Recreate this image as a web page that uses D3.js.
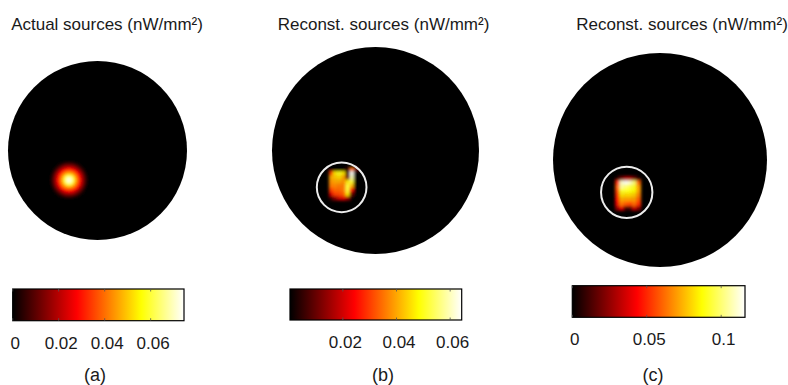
<!DOCTYPE html>
<html>
<head>
<meta charset="utf-8">
<script src="https://cdn.jsdelivr.net/npm/d3@7"></script>
<style>
  body { margin: 0; background: #fff; }
  svg { display: block; font-family: "Liberation Sans", Arial, sans-serif; }
</style>
</head>
<body>
<div id="chart"></div>
<script>
// ---- data (model coordinates in mm, values in nW/mm^2) ----
var discRadiusMm = 10;

// (a) actual source: radial profile
var sourceCenterA = [-3.18, -3.3];
var profileRadius = [0, 0.25, 0.5, 0.75, 1.0, 1.25, 1.5, 1.75, 2.0];
var profileValue  = [0.0745, 0.07, 0.06, 0.048, 0.038, 0.028, 0.018, 0.009, 0.003];

// (b) reconstructed source, 0.4 mm cells, rows top -> bottom
var cellMm = 0.4;
var gridOriginB = [-4.5, -1.6];
var gridB = [
  [0,     0,     0,     0,     0.005, 0.035, 0.01 ],
  [0.03,  0.046, 0.05,  0.046, 0.005, 0.064, 0    ],
  [0.04,  0.043, 0.045, 0.04,  0.01,  0.06,  0    ],
  [0.038, 0.04,  0.04,  0.038, 0.046, 0.052, 0    ],
  [0.036, 0.037, 0.036, 0.036, 0.052, 0.042, 0    ],
  [0.03,  0.034, 0.034, 0.036, 0.052, 0.026, 0    ],
  [0.02,  0.03,  0.031, 0.033, 0.046, 0.01,  0    ],
  [0.005, 0.014, 0.02,  0.022, 0.016, 0,     0    ]
];

// (c) reconstructed source
var gridOriginC = [-4.2, -1.5];
var gridC = [
  [0.005, 0.02,  0.03,  0.03,  0.02,  0.005],
  [0.05,  0.11,  0.115, 0.11,  0.1,   0.06 ],
  [0.06,  0.105, 0.1,   0.095, 0.09,  0.07 ],
  [0.055, 0.092, 0.09,  0.088, 0.086, 0.07 ],
  [0.05,  0.082, 0.08,  0.08,  0.078, 0.065],
  [0.045, 0.072, 0.07,  0.07,  0.07,  0.058],
  [0.04,  0.064, 0.058, 0.055, 0.062, 0.05 ],
  [0.025, 0.04,  0.012, 0.012, 0.035, 0.022]
];

// true source location marked on reconstructions
var ringCenterB = [-3.27, -3.56];
var ringCenterC = [-3.11, -3.02];
var ringRadiusMm = 2.4;

// colorbars
var cbarDomainA = [0, 0.0745], cbarTicksA = [0, 0.02, 0.04, 0.06];
var cbarDomainB = [0.0003, 0.0643], cbarTicksB = [0.02, 0.04, 0.06];
var cbarDomainC = [0, 0.116], cbarTicksC = [0, 0.05, 0.1];

var titles = ["Actual sources (nW/mm\u00B2)", "Reconst. sources (nW/mm\u00B2)", "Reconst. sources (nW/mm\u00B2)"];
var panelLabels = ["(a)", "(b)", "(c)"];

// ---- layout ----
var width = 788, height = 385;
var panels = [
  {disc: {cx: 97.5, cy: 150.5, r: 89.5}, titleX: 107, bar: {x: 12.7, y: 289, w: 171.3, h: 31.7}, labelX: 95,
   domain: cbarDomainA, ticks: cbarTicksA},
  {disc: {cx: 375.5, cy: 150.5, r: 103.5}, titleX: 383.5, bar: {x: 290, y: 289, w: 171.7, h: 31}, labelX: 383,
   domain: cbarDomainB, ticks: cbarTicksB, grid: gridB, origin: gridOriginB, ring: ringCenterB},
  {disc: {cx: 660, cy: 160, r: 107}, titleX: 682, bar: {x: 572.3, y: 285.7, w: 172.7, h: 31.6}, labelX: 653,
   domain: cbarDomainC, ticks: cbarTicksC, grid: gridC, origin: gridOriginC, ring: ringCenterC}
];

// MATLAB "hot" colormap
var hotStops = [0, 0.375, 0.75, 1];
var hot = d3.scaleLinear().domain(hotStops).range(["#000000", "#ff0000", "#ffff00", "#ffffff"]).clamp(true);

var svg = d3.select("#chart").append("svg")
  .attr("width", width)
  .attr("height", height);

var defs = svg.append("defs");

//soft edges for the source maps
defs.append("filter")
  .attr("id", "soft")
  .attr("x", "-50%").attr("y", "-50%").attr("width", "200%").attr("height", "200%")
  .append("feGaussianBlur").attr("stdDeviation", 1.4);

//colorbar gradient
var grad = defs.append("linearGradient").attr("id", "hotgrad");
hotStops.forEach(function(s) {
  grad.append("stop").attr("offset", s).attr("stop-color", hot(s));
});

panels.forEach(function(p, i) {
  var g = svg.append("g");

  //mm -> pixel scales for this disc
  var x = d3.scaleLinear().domain([-discRadiusMm, discRadiusMm]).range([p.disc.cx - p.disc.r, p.disc.cx + p.disc.r]);
  var y = d3.scaleLinear().domain([-discRadiusMm, discRadiusMm]).range([p.disc.cy + p.disc.r, p.disc.cy - p.disc.r]);
  var norm = d3.scaleLinear().domain(p.domain).range([0, 1]).clamp(true);
  var color = function(v) { return hot(norm(v)); };

  g.append("text")
    .attr("x", p.titleX)
    .attr("y", 30)
    .attr("text-anchor", "middle")
    .attr("font-size", 17)
    .attr("fill", "#1a1a1a")
    .text(titles[i]);

  g.append("circle")
    .attr("cx", x(0))
    .attr("cy", y(0))
    .attr("r", x(discRadiusMm) - x(0))
    .attr("fill", color(p.domain[0]));

  var src = g.append("g").attr("filter", "url(#soft)");

  if (i === 0) {
    //concentric rings from outside in
    var rings = profileRadius.map(function(r, k) { return {r: r, v: profileValue[k]}; }).reverse();
    src.selectAll("circle")
      .data(rings)
      .join("circle")
      .attr("cx", x(sourceCenterA[0]))
      .attr("cy", y(sourceCenterA[1]))
      .attr("r", function(d) { return x(d.r + 0.125) - x(0); })
      .attr("fill", function(d) { return color(d.v); });
  } else {
    var cells = [];
    p.grid.forEach(function(row, ri) {
      row.forEach(function(v, ci) { cells.push({row: ri, col: ci, v: v}); });
    });
    src.selectAll("rect")
      .data(cells)
      .join("rect")
      .attr("x", function(d) { return x(p.origin[0] + d.col * cellMm); })
      .attr("y", function(d) { return y(p.origin[1] - d.row * cellMm); })
      .attr("width", x(cellMm) - x(0) + 0.3)
      .attr("height", x(cellMm) - x(0) + 0.3)
      .attr("fill", function(d) { return color(d.v); });

    g.append("circle")
      .attr("cx", x(p.ring[0]))
      .attr("cy", y(p.ring[1]))
      .attr("r", x(ringRadiusMm) - x(0))
      .attr("fill", "none")
      .attr("stroke", "#ececec")
      .attr("stroke-width", 2);
  }

  //colorbar
  var cb = p.bar;
  var cx = d3.scaleLinear().domain(p.domain).range([cb.x, cb.x + cb.w]);
  g.append("rect")
    .attr("x", cb.x).attr("y", cb.y)
    .attr("width", cb.w).attr("height", cb.h)
    .attr("fill", "url(#hotgrad)")
    .attr("stroke", "#000")
    .attr("stroke-width", 1.2);

  p.ticks.forEach(function(t) {
    g.append("line")
      .attr("x1", cx(t)).attr("x2", cx(t))
      .attr("y1", cb.y).attr("y2", cb.y + 2.5)
      .attr("stroke", "#555").attr("stroke-width", 0.8);
    g.append("line")
      .attr("x1", cx(t)).attr("x2", cx(t))
      .attr("y1", cb.y + cb.h - 2.5).attr("y2", cb.y + cb.h)
      .attr("stroke", "#555").attr("stroke-width", 0.8);
    g.append("text")
      .attr("x", cx(t) + 2.5)
      .attr("y", cb.y + cb.h + 28)
      .attr("text-anchor", "middle")
      .attr("font-size", 17)
      .attr("fill", "#1a1a1a")
      .text(d3.format("~g")(t));
  });

  g.append("text")
    .attr("x", p.labelX)
    .attr("y", 381)
    .attr("text-anchor", "middle")
    .attr("font-size", 18)
    .attr("fill", "#1a1a1a")
    .text(panelLabels[i]);
});
</script>
</body>
</html>
